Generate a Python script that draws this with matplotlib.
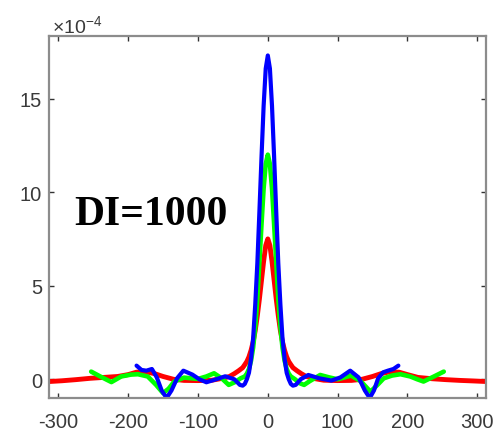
import matplotlib
matplotlib.use("Agg")
import matplotlib.pyplot as plt

plt.rcParams['font.family'] = ['Liberation Sans', 'DejaVu Sans']
plt.rcParams['mathtext.fontset'] = 'custom'
plt.rcParams['mathtext.rm'] = 'Liberation Sans'
plt.rcParams['mathtext.it'] = 'Liberation Sans'

# values in units of 1e-4
x_red = [-313, -295, -275, -255, -235, -215, -200, -188, -175, -162, -150, -135, -120, -100, -80, -65,
         -55, -48, -42, -36, -33, -30, -27, -24, -21, -18, -15, -12, -9, -6, -3, 0,
         3, 6, 9, 12, 15, 18, 21, 24, 27, 30, 33, 36, 42, 48, 55, 65, 80, 100, 120, 135,
         150, 162, 175, 188, 200, 215, 235, 255, 275, 295, 313]
y_red = [-0.12, -0.08, -0.02, 0.05, 0.1, 0.15, 0.25, 0.38, 0.4, 0.3, 0.15, 0.0, -0.06, -0.07, -0.05, 0.05,
         0.15, 0.3, 0.45, 0.62, 0.78, 0.95, 1.2, 1.55, 2.0, 2.6, 3.4, 4.3, 5.3, 6.3, 7.15, 7.5,
         7.15, 6.3, 5.3, 4.3, 3.4, 2.6, 2.0, 1.55, 1.2, 0.95, 0.78, 0.62, 0.45, 0.3, 0.15, 0.05, -0.05, -0.07, -0.06, 0.0,
         0.15, 0.3, 0.4, 0.38, 0.25, 0.1, 0.03, -0.02, -0.06, -0.09, -0.12]

x_green = [-253, -240, -224, -210, -196, -186, -172, -160, -150, -142, -134, -120, -100, -88, -77, -66,
           -56, -47, -39, -33, -30, -27, -24, -21, -18, -15, -12, -9, -6, -3, 0,
           3, 6, 9, 12, 15, 18, 21, 24, 27, 30, 33, 39, 45, 52, 60, 75, 88, 100, 110, 119,
           133, 147, 157, 166, 178, 190, 204, 214, 223, 238, 252]
y_green = [0.41, 0.15, -0.15, 0.15, 0.25, 0.27, 0.15, -0.3, -0.74, -0.5, -0.12, 0.09, 0.02, 0.15, 0.32, 0.05,
           -0.3, -0.15, 0.05, 0.15, 0.3, 0.55, 1.0, 1.7, 2.8, 4.3, 6.3, 8.3, 10.2, 11.5, 12.0,
           11.5, 10.2, 8.3, 6.3, 4.3, 2.8, 1.7, 1.0, 0.55, 0.3, 0.15, 0.0, -0.2, -0.3, -0.1, 0.23, 0.1, 0.0, 0.1, 0.2,
           -0.1, -0.66, -0.3, 0.05, 0.2, 0.27, 0.15, 0.0, -0.12, 0.15, 0.41]

x_blue = [-188, -181, -174, -166, -159, -152, -145, -138, -130, -121, -108, -98, -88, -74, -61, -48,
          -40, -36, -33, -30, -27, -24, -21, -18, -15, -12, -9, -6, -3, 0,
          3, 6, 9, 12, 15, 18, 21, 24, 27, 30, 33, 36, 40, 47, 58, 74, 91, 104, 118,
          130, 139, 146, 152, 158, 165, 172, 180, 187]
y_blue = [0.73, 0.5, 0.46, 0.55, 0.1, -0.6, -1.0, -0.6, 0.05, 0.46, 0.25, 0.0, -0.16, 0.0, 0.16, 0.0,
          -0.3, -0.34, -0.25, 0.0, 0.35, 1.1, 2.2, 4.0, 6.2, 9.0, 11.9, 14.6, 16.6, 17.3,
          16.6, 14.6, 11.9, 9.0, 6.2, 4.0, 2.2, 1.1, 0.35, 0.0, -0.25, -0.34, -0.3, 0.0, 0.23, 0.05, -0.07, 0.1, 0.46,
          0.1, -0.6, -1.0, -0.6, 0.05, 0.37, 0.46, 0.55, 0.73]

x_ticks = [-300, -200, -100, 0, 100, 200, 300]
y_ticks = [0, 5, 10, 15]
annotation = "DI=1000"

fig = plt.figure(figsize=(4.98, 4.31), dpi=100)
ax = fig.add_axes([49/498, 32/431, (486-49)/498, (399-37)/431])

ax.plot(x_red, y_red, color='#ff0000', lw=3.5, solid_joinstyle='round', solid_capstyle='round')
ax.plot(x_green, y_green, color='#00ff00', lw=3.3, solid_joinstyle='round', solid_capstyle='round')
ax.plot(x_blue, y_blue, color='#0000ff', lw=3.0, solid_joinstyle='round', solid_capstyle='round')

ax.set_xlim(-313.4, 312.5)
ax.set_ylim(-1.0, 18.34)
ax.set_xticks(x_ticks)
ax.set_yticks(y_ticks)
ax.set_xticklabels([str(v) for v in x_ticks])
ax.set_yticklabels([str(v) for v in y_ticks])

for s in ax.spines.values():
    s.set_color('#8c8c8c')
    s.set_linewidth(1.6)

ax.tick_params(axis='both', direction='in', length=3.5, width=1.0, color='#333333',
               labelcolor='#3a3a3a', labelsize=14.5, top=True, right=True)
ax.tick_params(axis='x', pad=10)
ax.tick_params(axis='y', pad=5)

ax.text(-277, 8.3, annotation, family=['Liberation Serif', 'DejaVu Serif'], fontweight='bold',
        fontsize=30, color='black', ha='left', va='baseline')

fig.text(52/498, (431-33)/431, r'$\times10^{-4}$', fontsize=14, color='#3a3a3a',
         ha='left', va='baseline')

fig.savefig('out.png', dpi=100)
